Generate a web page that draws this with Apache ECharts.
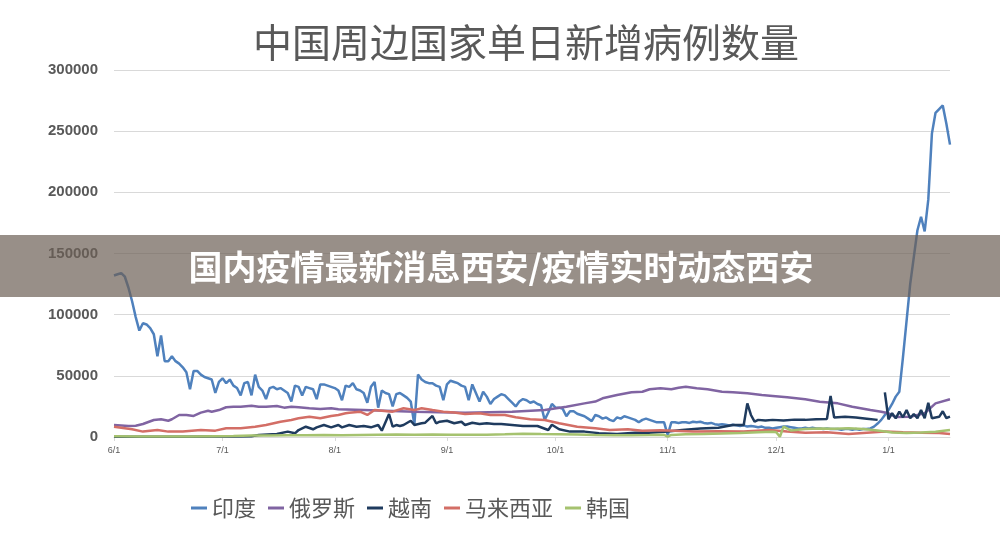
<!DOCTYPE html>
<html>
<head>
<meta charset="utf-8">
<script src="https://cdn.jsdelivr.net/npm/echarts@6/dist/echarts.min.js"></script>
<style>
  html, body { margin: 0; padding: 0; background: #fff; }
  #chart { width: 1000px; height: 533px; }
</style>
</head>
<body>
<div id="chart"></div>
<script>
// 日期：2021-06-01 起共 232 天
const startDay = [2021, 5, 1]
const dayCount = 232
const monthTicks = ['6/1', '7/1', '8/1', '9/1', '10/1', '11/1', '12/1', '1/1']

const seriesNames = ['印度', '俄罗斯', '越南', '马来西亚', '韩国']
const seriesColors = ['#4F81BD', '#8064A2', '#1F3B5E', '#D36E66', '#A5C26F']

// 印度：逐日
const indiaCases = [
  132000, 133000, 134000, 131000, 122000, 111000, 98000, 87000, 93000, 92000,
  89000, 84000, 66000, 83000, 62000, 62000, 66000, 62000, 60000, 57000,
  53000, 39000, 54000, 54000, 51000, 49000, 48000, 47000, 36000, 45000,
  48000, 44000, 47000, 42000, 40000, 34000, 44000, 45000, 34000, 51000,
  41000, 38000, 31000, 40000, 41000, 39000, 40000, 38000, 36000, 29000,
  42000, 41000, 34000, 41000, 40000, 39000, 31000, 43000, 43000, 42000,
  41000, 40000, 38000, 30000, 42000, 41000, 44000, 39000, 38000, 36000,
  28000, 41000, 45000, 24000, 38000, 36000, 35000, 25000, 35000, 36000,
  34000, 32000, 29000, 10000, 51000, 47000, 45000, 44000, 44000, 42000,
  41000, 30000, 43000, 46000, 45000, 44000, 42000, 41000, 30000, 43000,
  36000, 29000, 37000, 33000, 27000, 31000, 33000, 35000, 34000, 31000,
  28000, 25000, 29000, 31000, 30000, 28000, 29000, 27000, 26000, 14000,
  20000, 27000, 24000, 24000, 23000, 17000, 21000, 21000, 19000, 18000,
  17000, 15000, 13000, 18000, 17000, 15000, 16000, 14000, 13000, 16000,
  15000, 17000, 16000, 15000, 14000, 12000, 14000, 15000, 14000, 13000,
  12000, 12000, 12000, 1500, 12000, 12000, 11500, 12000, 12000, 11500,
  12500, 12000, 12500, 11500, 11000, 11500, 10500, 10000, 10500, 10000,
  9500, 10000, 9500, 9000, 9500, 8500, 9000, 8500, 8000, 8500,
  7500, 7500, 7000, 7500, 8000, 8500, 8500, 8000, 7500, 7000,
  7000, 7500, 7000, 7500, 7000, 7000, 6500, 7000, 6500, 6500,
  6500, 6000, 6500, 6500, 6000, 6500, 6000, 6500, 6500, 7000,
  8500, 11000, 14000, 18000, 22000, 27000, 33000, 37000, 65000, 95000,
  125000, 147000, 169000, 180000, 168000, 194000, 248000, 265000, 268000, 271000,
  256000, 239000
]

// 俄罗斯
const russiaDays = [
  0, 4, 6, 8, 11, 13, 15, 16, 18, 20, 22, 24, 26, 27, 29, 31, 33, 35, 38, 40,
  42, 45, 47, 49, 51, 54, 57, 60, 62, 69, 83, 97, 110, 119, 125, 130, 133, 135, 139, 143,
  146, 148, 151, 154, 156, 158, 161, 164, 168, 171, 175, 179, 182, 186, 191, 195, 200, 204, 209, 212,
  214, 216, 220, 224, 227, 231
]
const russiaCases = [
  9800, 9000, 9200, 10600, 13900, 14500, 13300, 14500, 18000, 18000, 17200, 19900, 21500, 20700, 22000, 24300, 24800, 24800, 25600, 24800,
  24800, 25300, 24000, 24800, 24300, 23500, 22900, 23500, 22600, 22000, 20700, 19900, 20700, 22000, 24800, 27500, 29000, 31600, 34300, 36500,
  37000, 39000, 39800, 39000, 40300, 41000, 39800, 39000, 37000, 36500, 35700, 34300, 33500, 32400, 30800, 28900, 27500, 24800, 22000, 20700,
  19400, 16300, 16600, 19400, 27500, 30800
]

// 越南（null 为缺测）
const vietnamDays = [
  0, 10, 20, 27, 33, 38, 40, 45, 48, 50, 51, 53, 55, 56, 58, 60, 62, 63, 65, 67,
  69, 71, 73, 74, 76, 77, 78, 79, 80, 82, 83, 85, 86, 88, 89, 90, 92, 94, 96, 97,
  99, 101, 103, 105, 107, 110, 113, 117, 120, 121, 123, 126, 130, 134, 139, 144, 148, 153, 157, 162,
  167, 171, 174, 175, 176, 177, 178, 180, 182, 185, 188, 191, 194, 197, 198, 199, 202, 205, 208, 211,
  212, 213, 214, 215, 216, 217, 218, 219, 220, 221, 222, 223, 224, 225, 226, 227, 228, 229, 230, 231
]
const vietnamCases = [
  200, 300, 300, 400, 500, 700, 1600, 2500, 4400, 3000, 5700, 8400, 6300, 7900, 9800, 7900, 9800, 7900, 9800, 8400,
  9000, 7900, 9800, 5200, 18800, 8400, 9800, 9000, 9800, 13300, 9800, 11200, 11700, 17200, 11200, 12500, 13300, 11200, 12500, 9800,
  11700, 10600, 11200, 10600, 10600, 9800, 9000, 9000, 5700, 10000, 6300, 4400, 4400, 3000, 2500, 3500, 3500, 4400, 5700, 7000,
  7600, 9800, 9800, 27500, 18000, 12500, 14000, 13500, 14000, 13500, 14200, 14000, 14500, 14800, 33500, 16000, 16500, 16000, 15000, 14000,
  null, 36500, 14500, 19400, 15300, 20700, 16100, 22000, 15300, 18800, 15300, 22000, 15300, 28000, 15300, 16000, 16500, 21000, 15500, 16600
]

// 马来西亚
const malaysiaDays = [
  0, 5, 8, 12, 15, 19, 24, 28, 31, 35, 39, 42, 46, 49, 51, 54, 57, 60, 62, 64,
  65, 68, 70, 72, 74, 77, 80, 83, 85, 88, 91, 94, 97, 101, 104, 108, 111, 115, 119, 123,
  128, 133, 137, 142, 146, 151, 160, 167, 174, 181, 186, 191, 197, 203, 208, 213, 218, 223, 228, 231
]
const malaysiaCases = [
  8400, 6300, 4400, 5700, 4400, 4400, 5700, 5200, 7100, 7100, 8400, 9800, 12500, 13900, 15300, 16600, 15300, 17200, 18000, 19400,
  19900, 20700, 18000, 22000, 21500, 20700, 23500, 22000, 23500, 22000, 20700, 20000, 18800, 19500, 18000, 18000, 16100, 14500, 13900, 11200,
  8400, 7100, 5700, 6300, 5200, 5500, 4400, 4800, 4400, 5700, 4400, 3500, 3800, 2500, 3500, 4400, 3800, 3500, 3300, 2500
]

// 韩国
const koreaDays = [
  0, 7, 14, 21, 28, 33, 38, 43, 48, 53, 58, 63, 68, 73, 78, 83, 88, 93, 98, 103,
  108, 113, 118, 123, 128, 133, 138, 143, 148, 152, 153, 154, 158, 163, 168, 173, 178, 182, 183, 184,
  185, 187, 191, 195, 199, 203, 207, 211, 215, 219, 223, 227, 231
]
const koreaCases = [
  600, 500, 500, 400, 700, 900, 1200, 1300, 1500, 1400, 1600, 1400, 1700, 1900, 2000, 1800, 2000, 1900, 1800, 1900,
  2200, 2600, 2400, 2300, 2000, 1600, 1500, 1400, 1600, 1800, 400, 1700, 2200, 2400, 2800, 3300, 3900, 4300, 3900, 200,
  8500, 5400, 6500, 7000, 6800, 7100, 6500, 5300, 3700, 3200, 3600, 4300, 5700
]

const bannerText = '国内疫情最新消息西安/疫情实时动态西安'

// 类目轴日期
const categories = []
for (let i = 0; i < dayCount; i++) {
  const d = new Date(startDay[0], startDay[1], startDay[2] + i)
  categories.push(d.getMonth() + 1 + '/' + d.getDate())
}
const isMonthTick = (idx, value) => monthTicks.includes(value)

const pairs = (days, vals) => days.map((d, i) => [d, vals[i]])
const seriesData = [
  indiaCases.map((v, i) => [i, v]),
  pairs(russiaDays, russiaCases),
  pairs(vietnamDays, vietnamCases),
  pairs(malaysiaDays, malaysiaCases),
  pairs(koreaDays, koreaCases),
]

const chart = echarts.init(document.getElementById('chart'))
const option = {
  animation: false,
  title: {
    text: '中国周边国家单日新增病例数量',
    left: 248,
    top: 18,
    textStyle: {
      color: '#595959',
      fontSize: 39,
      fontWeight: 'normal',
      fontFamily: '"Noto Sans CJK SC", sans-serif',
    },
  },
  legend: {
    data: seriesNames,
    left: 186,
    top: 492,
    icon: 'rect',
    itemWidth: 16,
    itemHeight: 3,
    itemGap: 12,
    textStyle: {
      color: '#595959',
      fontSize: 22,
      fontFamily: '"Noto Sans CJK SC", sans-serif',
    },
  },
  grid: { left: 114, right: 50, top: 70, bottom: 96, containLabel: false },
  xAxis: {
    type: 'category',
    data: categories,
    boundaryGap: false,
    axisLine: { lineStyle: { color: '#D9D9D9' } },
    axisTick: { show: true, interval: isMonthTick, length: 4, lineStyle: { color: '#D9D9D9' } },
    axisLabel: {
      interval: isMonthTick,
      color: '#595959',
      fontSize: 9,
      margin: 9,
      fontFamily: '"Liberation Sans", Arial, sans-serif',
    },
    splitLine: { show: false },
  },
  yAxis: {
    type: 'value',
    min: 0,
    max: 300000,
    interval: 50000,
    axisLine: { show: false },
    axisTick: { show: false },
    axisLabel: {
      formatter: (v) => String(v),
      color: '#595959',
      fontSize: 15,
      fontWeight: 'bold',
      margin: 16,
      fontFamily: '"Liberation Sans", Arial, sans-serif',
    },
    splitLine: { lineStyle: { color: '#D9D9D9', width: 1 } },
  },
  series: seriesNames.map((name, k) => ({
    name,
    type: 'line',
    data: seriesData[k],
    color: seriesColors[k],
    showSymbol: false,
    symbol: 'none',
    connectNulls: false,
    lineStyle: { width: 2.5, color: seriesColors[k] },
  })),
  graphic: [
    {
      type: 'rect',
      z: 100,
      shape: { x: 0, y: 235, width: 1000, height: 62 },
      style: { fill: 'rgba(108, 96, 86, 0.7)' },
    },
    {
      type: 'text',
      z: 101,
      x: 501,
      y: 267,
      style: {
        text: bannerText,
        fill: '#FFFFFF',
        fontSize: 34,
        fontWeight: 'bold',
        fontFamily: '"Noto Sans CJK SC", sans-serif',
        align: 'center',
        verticalAlign: 'middle',
        textAlign: 'center',
        textVerticalAlign: 'middle',
      },
    },
  ],
}
chart.setOption(option)
</script>
</body>
</html>
